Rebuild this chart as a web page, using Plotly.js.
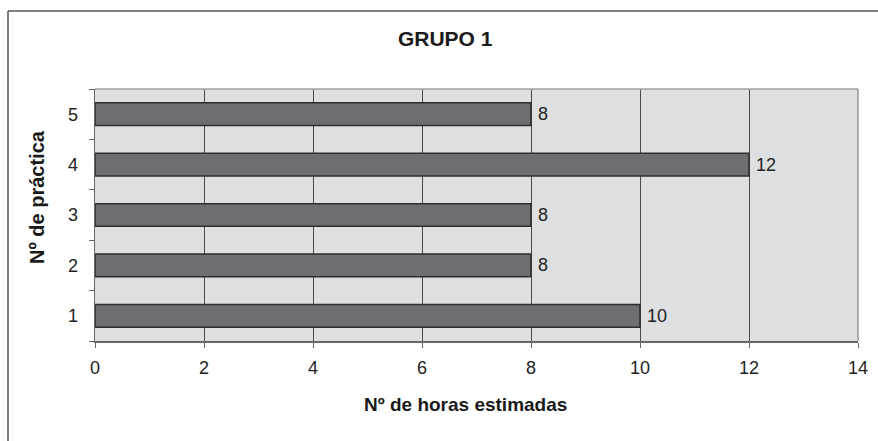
<!DOCTYPE html>
<html>
<head>
<meta charset="utf-8">
<script src="https://cdn.plot.ly/plotly-3.0.1.min.js"></script>
<style>html,body{margin:0;padding:0;background:#fff;}#chart{width:878px;height:441px;}</style>
</head>
<body>
<div id="chart"></div>
<script>
const chartTitle = "GRUPO 1";
const categories = ["1", "2", "3", "4", "5"];
const hours = [10, 8, 8, 12, 8];
const xTickVals = [0, 2, 4, 6, 8, 10, 12, 14];
const xAxisTitle = "Nº de horas estimadas";
const yAxisTitle = "Nº de práctica";

const FONT = "Liberation Sans, Arial, Helvetica, sans-serif";

const trace = {
  type: "bar",
  orientation: "h",
  x: hours,
  y: categories,
  width: 0.45,
  marker: {color: "#6d6e71", line: {color: "#2e2e2e", width: 1.5}},
  hoverinfo: "none"
};

// category axis: annotation y given as category index
const valueLabels = hours.map((v, i) => ({
  x: v, y: i, xref: "x", yref: "y",
  text: String(v), showarrow: false, xanchor: "left", xshift: 5,
  font: {family: FONT, size: 18, color: "#222"}
}));

const layout = {
  width: 878, height: 441,
  margin: {l: 95, r: 20, t: 89, b: 100},
  paper_bgcolor: "#ffffff",
  plot_bgcolor: "#dedfe1",
  showlegend: false,
  font: {family: FONT, size: 18, color: "#222"},
  title: {text: "<b>" + chartTitle + "</b>", x: 0.507, xanchor: "center", y: 0.913, yanchor: "middle",
          font: {family: FONT, size: 21, color: "#1a1a1a"}},
  xaxis: {
    range: [0, 14], tickvals: xTickVals, ticktext: xTickVals.map(String),
    showgrid: true, gridcolor: "#4a4a4a", gridwidth: 1,
    zeroline: false, showline: true, linecolor: "#666", linewidth: 1.5,
    ticks: "outside", ticklen: 5, tickcolor: "#666", ticklabelstandoff: 5,
    tickfont: {family: FONT, size: 18, color: "#222"}, fixedrange: true
  },
  yaxis: {
    type: "category", tickson: "boundaries", range: [-0.5, 4.5],
    showgrid: false, zeroline: false, showline: true, linecolor: "#666", linewidth: 1.5,
    ticks: "outside", ticklen: 5, tickcolor: "#666", ticklabelstandoff: 12,
    tickfont: {family: FONT, size: 18, color: "#222"}, fixedrange: true
  },
  annotations: valueLabels.concat([
    {xref: "paper", yref: "paper", x: (465 - 95) / 763, y: (341 - 404) / 252,
     text: "<b>" + xAxisTitle + "</b>", showarrow: false, xanchor: "center", yanchor: "middle",
     font: {family: FONT, size: 19, color: "#1a1a1a"}},
    {xref: "paper", yref: "paper", x: (37 - 95) / 763, y: (341 - 197) / 252,
     text: "<b>" + yAxisTitle + "</b>", showarrow: false, xanchor: "center", yanchor: "middle",
     textangle: -90, font: {family: FONT, size: 20, color: "#1a1a1a"}}
  ]),
  shapes: [
    {type: "line", xref: "paper", yref: "paper", x0: 0, x1: 1, y0: 1, y1: 1,
     line: {color: "#a0a0a0", width: 1.5}, layer: "above"},
    {type: "line", xref: "paper", yref: "paper", x0: 1, x1: 1, y0: 0, y1: 1,
     line: {color: "#999999", width: 1.5}, layer: "above"},
    {type: "line", xref: "paper", yref: "paper", x0: (8 - 95) / 763, x1: (885 - 95) / 763,
     y0: (341 - 11) / 252, y1: (341 - 11) / 252, line: {color: "#555", width: 1.5}},
    {type: "line", xref: "paper", yref: "paper", x0: (8 - 95) / 763, x1: (8 - 95) / 763,
     y0: (341 - 11) / 252, y1: (341 - 450) / 252, line: {color: "#555", width: 1.5}}
  ]
};

Plotly.newPlot("chart", [trace], layout, {displayModeBar: false, staticPlot: true});
</script>
</body>
</html>
